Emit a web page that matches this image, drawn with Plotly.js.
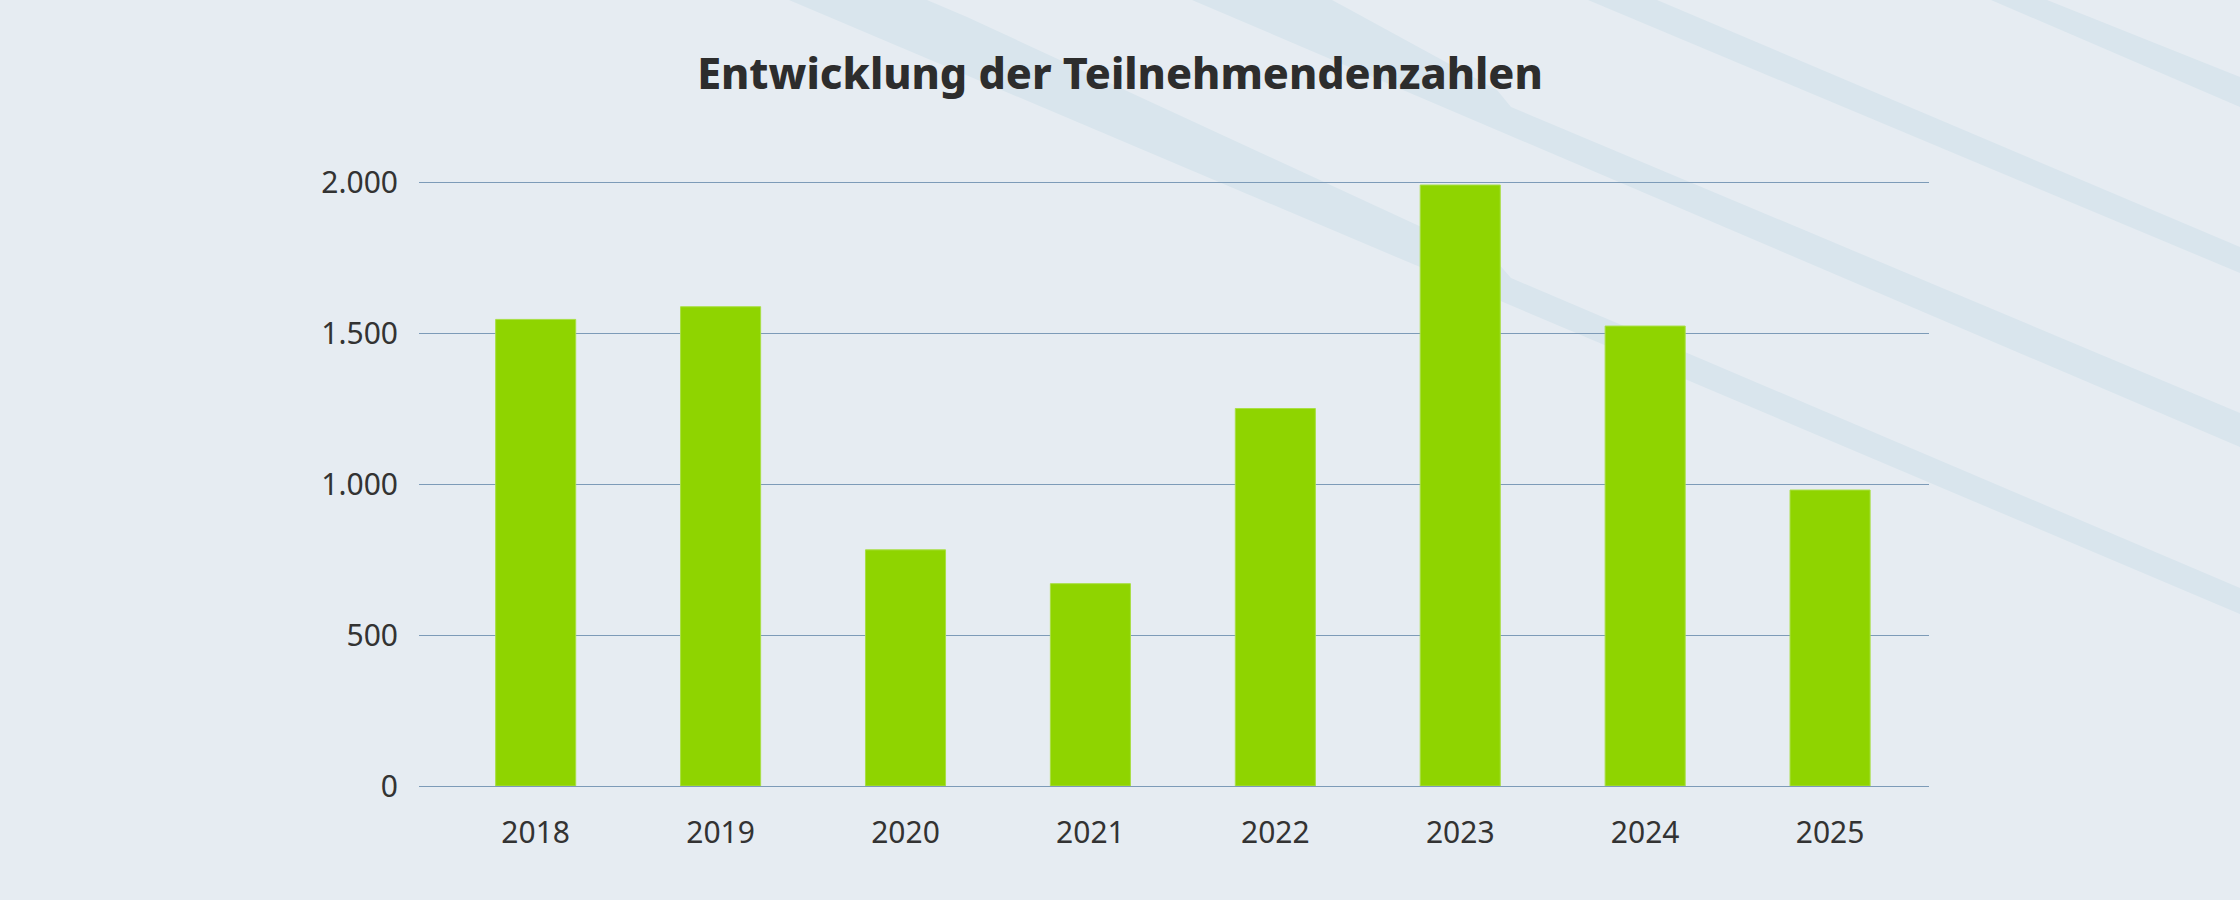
<!DOCTYPE html>
<html>
<head>
<meta charset="utf-8">
<script src="https://cdn.plot.ly/plotly-3.0.1.min.js"></script>
<style>
    html, body { margin: 0; padding: 0; background: #e6ecf2; }
    #plot { width: 2240px; height: 900px; }
</style>
</head>
<body>
<div id="plot"></div>
<script>
// data
var years = ['2018', '2019', '2020', '2021', '2022', '2023', '2024', '2025'];
var participants = [1545, 1587, 782, 670, 1250, 1990, 1523, 980];
var yTicks = [0, 500, 1000, 1500, 2000];

var W = 2240, H = 900;
var M = { l: 419, r: 311, t: 180, b: 114 };

// background stripes, in page pixels
var stripes = [
    [[789, 0], [927, 0], [967, 17], [1497, 262], [1511, 278], [2240, 588], [2240, 614]],
    [[1192, 0], [1332, 0], [1345, 7], [1497, 90], [1511, 107], [2240, 413], [2240, 447]],
    [[1588, 0], [1657, 0], [2240, 247], [2240, 273]],
    [[1991, 0], [2047, 0], [2240, 77], [2240, 107]],
];

function toPaper(p) {
    var pw = W - M.l - M.r;
    var ph = H - M.t - M.b;
    return [(p[0] - M.l) / pw, (H - M.b - p[1]) / ph];
}

function runPlot() {
    var plotdiv = document.querySelector('#plot');

    var shapes = stripes.map(function (pts) {
        var path = pts.map(function (p, i) {
            var q = toPaper(p);
            return (i == 0 ? 'M' : 'L') + q[0].toFixed(5) + ',' + q[1].toFixed(5);
        }).join(' ') + ' Z';
        return {
            type: 'path',
            xref: 'paper',
            yref: 'paper',
            path: path,
            fillcolor: '#d9e5ed',
            line: { width: 0 },
            layer: 'below',
        };
    });

    var bars = {
        x: years,
        y: participants,
        type: 'bar',
        width: 0.433,
        marker: { color: '#8fd400', line: { color: '#a9df45', width: 1 } },
        hoverinfo: 'x+y',
    };

    // 2000 sits at y=182px, 0 at y=786px; leave a couple px above so the top gridline is drawn
    var yTop = 2000 * (H - M.t - M.b) / 604;

    var layout = {
        width: W,
        height: H,
        margin: { l: M.l, r: M.r, t: M.t, b: M.b, autoexpand: false },
        paper_bgcolor: '#e6ecf2',
        plot_bgcolor: 'rgba(0,0,0,0)',
        separators: ',.',
        showlegend: false,
        font: { family: 'Noto Sans, sans-serif', color: '#333333', size: 30 },
        title: {
            text: 'Entwicklung der Teilnehmendenzahlen',
            font: { family: 'Noto Sans, sans-serif', size: 43, weight: 800, color: '#2d2d2d' },
            x: 0.5,
            xref: 'container',
            xanchor: 'center',
            y: 1 - 74 / H,
            yref: 'container',
            yanchor: 'middle',
        },
        xaxis: {
            type: 'category',
            range: [-0.631, 7.535],
            showgrid: false,
            zeroline: false,
            showline: false,
            ticks: '',
            ticklabelstandoff: 26,
            tickfont: { size: 30, color: '#333333' },
            fixedrange: true,
        },
        yaxis: {
            range: [0, yTop],
            tickvals: yTicks,
            tickformat: ',d',
            showgrid: true,
            gridcolor: '#7d9bb8',
            gridwidth: 1,
            zeroline: true,
            zerolinecolor: '#7d9bb8',
            zerolinewidth: 1,
            showline: false,
            ticks: '',
            ticklabelstandoff: 20,
            tickfont: { size: 30, color: '#333333' },
            fixedrange: true,
        },
        shapes: shapes,
    };

    var config = { displayModeBar: false };

    Plotly.newPlot(plotdiv, [bars], layout, config);
}

runPlot();
</script>
</body>
</html>
